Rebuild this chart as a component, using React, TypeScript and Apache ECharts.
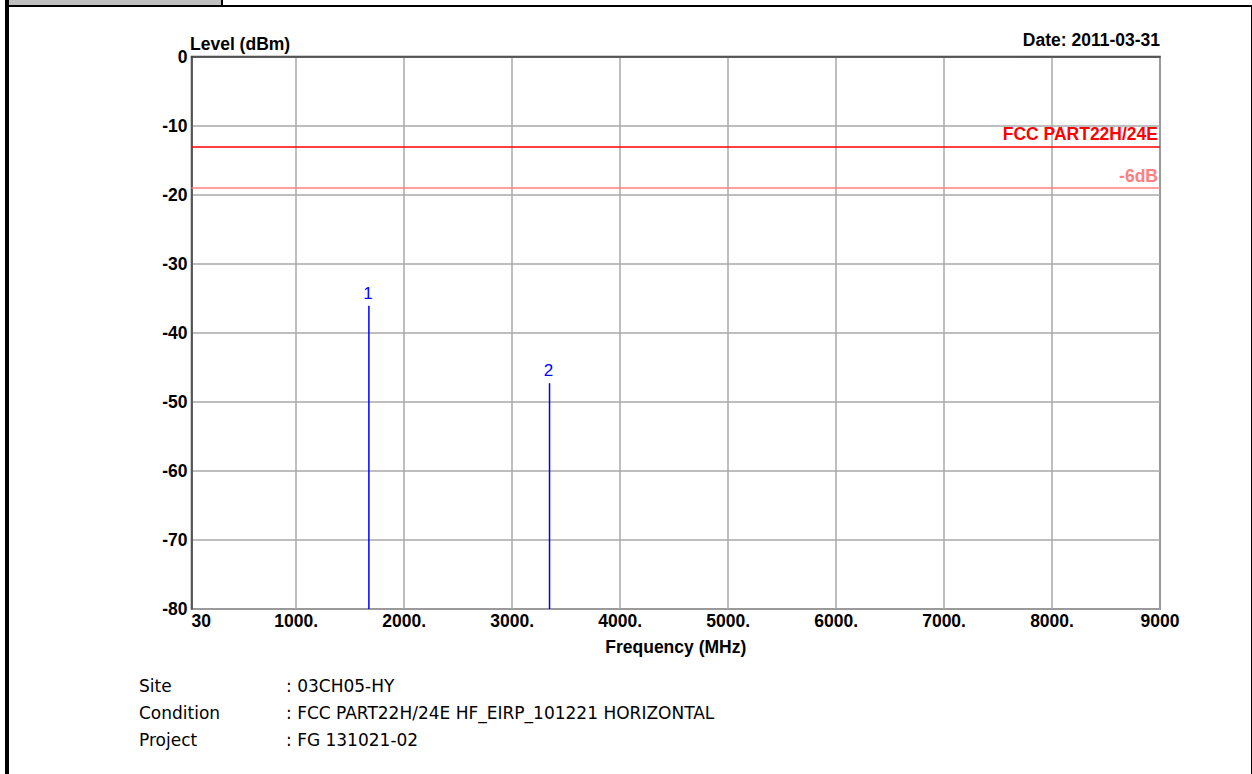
import React, { useEffect, useRef } from "react";
import * as echarts from "echarts";

const xTickValues = [30, 1000, 2000, 3000, 4000, 5000, 6000, 7000, 8000, 9000];
const markerFreq = [1673, 3346];
const markerLevel = [-36.1, -47.3];
const markerNames = ["1", "2"];
const limitNames = ["FCC PART22H/24E", "-6dB"];
const limitLevels = [-13, -19];
const limitColors = ["#ff0000", "#ff8080"];
const infoLabels = ["Site", "Condition", "Project"];
const infoValues = [": 03CH05-HY", ": FCC PART22H/24E HF_EIRP_101221 HORIZONTAL", ": FG 131021-02"];

const BOLD = "'Liberation Sans', Arial, sans-serif";
const FS = 17.5;

export default function App() {
  const ref = useRef<HTMLDivElement>(null);
  useEffect(() => {
    if (!ref.current) return;
    const chart = echarts.init(ref.current, null, { renderer: "svg" });
    const markerData = markerFreq.map((f, i) => [f, markerLevel[i], markerNames[i]]);
    const option: any = {
      animation: false,
      backgroundColor: "#ffffff",
      grid: {
        left: 191.5,
        right: 92,
        top: 56.5,
        bottom: 165,
        show: true,
        borderColor: "#404040",
        borderWidth: 1.5,
        backgroundColor: "transparent",
      },
      xAxis: {
        type: "value",
        min: 30,
        max: 9000,
        axisLine: { show: true, lineStyle: { color: "#404040", width: 1.5 } },
        axisTick: { show: false, customValues: xTickValues },
        splitLine: { show: true, lineStyle: { color: "#a8a8a8", width: 1.5 } },
        axisLabel: {
          customValues: xTickValues,
          formatter: (v: number) => (v === 30 || v === 9000 ? String(v) : v + "."),
          color: "#000",
          fontFamily: BOLD,
          fontWeight: "bold",
          fontSize: FS,
          margin: 3,
          alignMinLabel: "left",
        },
        name: "Frequency (MHz)",
        nameLocation: "middle",
        nameGap: 29,
        nameTextStyle: { color: "#000", fontFamily: BOLD, fontWeight: "bold", fontSize: FS },
      },
      yAxis: {
        type: "value",
        min: -80,
        max: 0,
        interval: 10,
        axisLine: { show: true, lineStyle: { color: "#404040", width: 1.5 } },
        axisTick: { show: false },
        splitLine: { show: true, lineStyle: { color: "#a8a8a8", width: 1.5 } },
        axisLabel: {
          color: "#000",
          fontFamily: BOLD,
          fontWeight: "bold",
          fontSize: FS,
          margin: 4,
        },
      },
      series: [
        {
          type: "line",
          data: [],
          silent: true,
          markLine: {
            symbol: "none",
            silent: true,
            animation: false,
            data: limitLevels.map((lv, i) => ({
              yAxis: lv,
              lineStyle: { color: limitColors[i], width: 1.5, type: "solid" },
              label: {
                show: true,
                position: "insideEndTop",
                formatter: limitNames[i],
                color: limitColors[i],
                fontFamily: BOLD,
                fontWeight: "bold",
                fontSize: FS,
                distance: [2, 3],
              },
            })),
          },
        },
        {
          type: "custom",
          data: markerData,
          silent: true,
          renderItem: (params: any, api: any) => {
            const x = api.value(0);
            const y = api.value(1);
            const top = api.coord([x, y]);
            const bottom = api.coord([x, -80]);
            return {
              type: "group",
              children: [
                {
                  type: "line",
                  shape: { x1: top[0], y1: top[1], x2: bottom[0], y2: bottom[1] },
                  style: { stroke: "#0000ff", lineWidth: 1.5 },
                },
                {
                  type: "text",
                  x: top[0] - 1,
                  y: top[1] - 4,
                  style: {
                    text: markerNames[params.dataIndex],
                    fill: "#0000ff",
                    font: "17px 'Liberation Sans', Arial, sans-serif",
                    align: "center",
                    verticalAlign: "bottom",
                  },
                },
              ],
            };
          },
        },
      ],
      graphic: [
        { type: "rect", shape: { x: 9, y: 0, width: 212, height: 5 }, style: { fill: "#c0c0c0" } },
        { type: "rect", shape: { x: 221, y: 0, width: 2, height: 5 }, style: { fill: "#000" } },
        { type: "rect", shape: { x: 5, y: 0, width: 4, height: 774 }, style: { fill: "#000" } },
        { type: "rect", shape: { x: 5, y: 5, width: 1247, height: 2 }, style: { fill: "#000" } },
        { type: "rect", shape: { x: 1251, y: 5, width: 1, height: 769 }, style: { fill: "#000" } },
        {
          type: "text",
          x: 190,
          y: 53,
          style: { text: "Level (dBm)", fill: "#000", font: `bold ${FS}px 'Liberation Sans', Arial, sans-serif`, verticalAlign: "bottom" },
        },
        {
          type: "text",
          x: 1160,
          y: 49,
          style: { text: "Date: 2011-03-31", fill: "#000", font: `bold ${FS}px 'Liberation Sans', Arial, sans-serif`, align: "right", verticalAlign: "bottom" },
        },
        ...infoLabels.map((t, i) => ({
          type: "text",
          x: 139,
          y: 686 + i * 27,
          style: { text: t, fill: "#000", font: "17px 'DejaVu Sans', sans-serif", verticalAlign: "middle" },
        })),
        ...infoValues.map((t, i) => ({
          type: "text",
          x: 286,
          y: 686 + i * 27,
          style: { text: t, fill: "#000", font: "17px 'DejaVu Sans', sans-serif", verticalAlign: "middle" },
        })),
      ],
    };
    chart.setOption(option);
    return () => chart.dispose();
  }, []);
  return (
    <div
      ref={ref}
      style={{ position: "absolute", left: 0, top: 0, width: 1252, height: 774 }}
    />
  );
}
